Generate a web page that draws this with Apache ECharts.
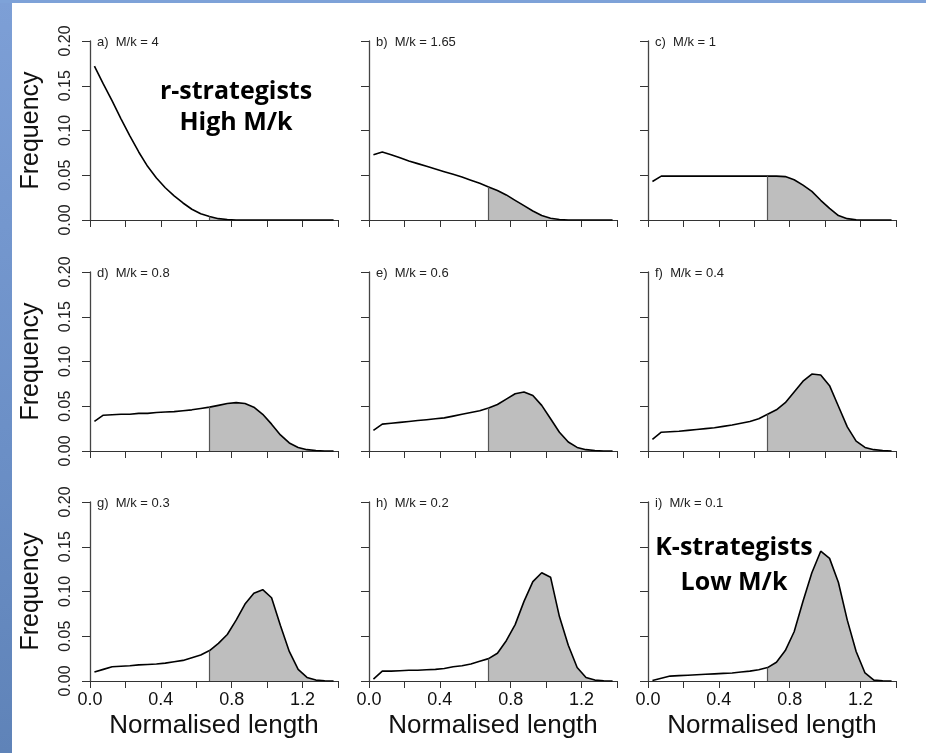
<!DOCTYPE html>
<html>
<head>
<meta charset="utf-8">
<title>Length frequency by M/k</title>
<script src="https://cdn.jsdelivr.net/npm/echarts@6/dist/echarts.min.js"></script>
<style>
    html, body { margin: 0; padding: 0; background: #fff; }
    #main { width: 926px; height: 753px; }
</style>
</head>
<body>
<div id="main"></div>
<script>
    // bin midpoints (normalised length)
    var lengths = [0.025, 0.075, 0.125, 0.175, 0.225, 0.275, 0.325, 0.375, 0.425, 0.475,
        0.525, 0.575, 0.625, 0.675, 0.725, 0.775, 0.825, 0.875, 0.925, 0.975,
        1.025, 1.075, 1.125, 1.175, 1.225, 1.275, 1.325, 1.375];

    var panelTitles = ['a)  M/k = 4', 'b)  M/k = 1.65', 'c)  M/k = 1',
        'd)  M/k = 0.8', 'e)  M/k = 0.6', 'f)  M/k = 0.4',
        'g)  M/k = 0.3', 'h)  M/k = 0.2', 'i)  M/k = 0.1'];

    var freqA = [0.172, 0.152, 0.133, 0.113, 0.094, 0.076, 0.060, 0.047, 0.036, 0.027, 0.019, 0.012, 0.007, 0.004,
        0.0015, 0.0005, 0, 0, 0, 0, 0, 0, 0, 0, 0, 0, 0, 0];
    var freqB = [0.073, 0.076, 0.073, 0.0695, 0.066, 0.063, 0.060, 0.057, 0.054, 0.051, 0.048, 0.0445, 0.041, 0.037,
        0.033, 0.028, 0.022, 0.016, 0.010, 0.005, 0.002, 0.0005, 0, 0, 0, 0, 0, 0];
    var freqC = [0.043, 0.049, 0.049, 0.049, 0.049, 0.049, 0.049, 0.049, 0.049, 0.049, 0.049, 0.049, 0.049, 0.049,
        0.049, 0.0485, 0.045, 0.039, 0.032, 0.022, 0.013, 0.005, 0.0015, 0.0003, 0, 0, 0, 0];
    var freqD = [0.033, 0.040, 0.0405, 0.041, 0.041, 0.042, 0.042, 0.043, 0.0435, 0.044, 0.045, 0.046, 0.0475, 0.049,
        0.051, 0.053, 0.054, 0.053, 0.049, 0.041, 0.030, 0.018, 0.009, 0.004, 0.0015, 0.0005, 0, 0];
    var freqE = [0.023, 0.030, 0.031, 0.032, 0.033, 0.034, 0.035, 0.036, 0.037, 0.039, 0.041, 0.043, 0.045, 0.048,
        0.052, 0.058, 0.064, 0.066, 0.062, 0.051, 0.036, 0.021, 0.010, 0.004, 0.0015, 0.0005, 0, 0];
    var freqF = [0.013, 0.021, 0.0215, 0.022, 0.023, 0.024, 0.025, 0.026, 0.0275, 0.029, 0.031, 0.033, 0.036, 0.041,
        0.046, 0.054, 0.066, 0.078, 0.086, 0.085, 0.073, 0.050, 0.027, 0.011, 0.004, 0.0015, 0.0005, 0];
    var freqG = [0.010, 0.013, 0.016, 0.0165, 0.017, 0.018, 0.0185, 0.019, 0.020, 0.0215, 0.023, 0.026, 0.029, 0.034,
        0.042, 0.052, 0.068, 0.086, 0.098, 0.102, 0.093, 0.062, 0.033, 0.013, 0.004, 0.001, 0.0003, 0];
    var freqH = [0.002, 0.011, 0.011, 0.0115, 0.012, 0.012, 0.0125, 0.013, 0.014, 0.016, 0.017, 0.019, 0.022, 0.025,
        0.031, 0.045, 0.063, 0.089, 0.111, 0.121, 0.116, 0.072, 0.040, 0.015, 0.004, 0.001, 0.0003, 0];
    var freqI = [0.0005, 0.003, 0.0055, 0.006, 0.0065, 0.007, 0.0075, 0.008, 0.0085, 0.009, 0.010, 0.011, 0.0125, 0.015,
        0.021, 0.034, 0.055, 0.089, 0.121, 0.145, 0.137, 0.110, 0.068, 0.033, 0.009, 0.001, 0.0003, 0];

    var panels = [freqA, freqB, freqC, freqD, freqE, freqF, freqG, freqH, freqI];
    var matIndex = 13; // first bin at/above maturity length (0.675), shaded from here

    var colLeft = [90, 369, 648];
    var rowTop = [41, 272, 502];
    var plotW = 248, plotH = 179;

    var rFont = "'Liberation Sans', Arial, Helvetica, sans-serif";

    var grids = [], xAxes = [], yAxes = [], series = [], titles = [];

    for (var k = 0; k < 9; k++) {
        var col = k % 3, row = Math.floor(k / 3);
        var vals = panels[k];
        var pts = [], shaded = [];
        for (var i = 0; i < lengths.length; i++) {
            pts.push([lengths[i], vals[i]]);
            if (i >= matIndex) shaded.push([lengths[i], vals[i]]);
        }

        grids.push({ left: colLeft[col], top: rowTop[row], width: plotW, height: plotH });

        xAxes.push({
            type: 'value', gridIndex: k, min: 0, max: 1.4, interval: 0.2,
            splitLine: { show: false },
            axisLine: { onZero: false, lineStyle: { color: '#333', width: 1 } },
            axisTick: { length: 7, lineStyle: { color: '#333' } },
            axisLabel: {
                show: row === 2, margin: 10, fontSize: 18, color: '#111', fontFamily: rFont,
                formatter: function(v) {
                    return (Math.round(v * 10) % 4 === 0) ? v.toFixed(1) : '';
                }
            },
            name: row === 2 ? 'Normalised length' : '',
            nameLocation: 'middle', nameGap: 32,
            nameTextStyle: { fontSize: 26, color: '#111', fontFamily: rFont }
        });

        yAxes.push({
            type: 'value', gridIndex: k, min: 0, max: 0.2, interval: 0.05,
            splitLine: { show: false },
            axisLine: { show: true, lineStyle: { color: '#444', width: 1.3 } },
            axisTick: { show: true, length: 8, lineStyle: { color: '#333' } },
            axisLabel: {
                show: col === 0, rotate: 90, margin: 16, fontSize: 16, color: '#222',
                fontFamily: "'Liberation Sans Narrow', 'Liberation Sans', Arial, sans-serif",
                formatter: function(v) { return v.toFixed(2); }
            },
            name: col === 0 ? 'Frequency' : '',
            nameLocation: 'middle', nameGap: 46,
            nameTextStyle: { fontSize: 25, color: '#111', fontFamily: rFont }
        });

        // grey area = mature part of the population
        series.push({
            type: 'line', xAxisIndex: k, yAxisIndex: k, data: shaded,
            symbol: 'none', z: 2,
            lineStyle: { width: 0, opacity: 0 },
            areaStyle: { color: '#bebebe', opacity: 1 },
            markLine: {
                silent: true, symbol: 'none', label: { show: false },
                lineStyle: { color: '#555', width: 1.2, type: 'solid' },
                data: [[{ coord: [lengths[matIndex], 0] }, { coord: [lengths[matIndex], vals[matIndex]] }]]
            }
        });
        series.push({
            type: 'line', xAxisIndex: k, yAxisIndex: k, data: pts,
            symbol: 'none', z: 3,
            lineStyle: { color: '#000', width: 1.6 }
        });

        titles.push({
            text: panelTitles[k], left: colLeft[col] + 7, top: rowTop[row] - 5, padding: 0,
            textStyle: { fontSize: 13, fontWeight: 'normal', color: '#222', fontFamily: rFont }
        });
    }

    var myChart = echarts.init(document.getElementById('main'));
    myChart.setOption({
        animation: false,
        backgroundColor: '#fff',
        title: titles,
        grid: grids,
        xAxis: xAxes,
        yAxis: yAxes,
        series: series,
        graphic: [{
            // slide background showing at the edges
            type: 'rect', z: -10, silent: true,
            shape: { x: 0, y: 0, width: 12, height: 753 },
            style: {
                fill: new echarts.graphic.LinearGradient(0, 0, 0, 1, [
                    { offset: 0, color: '#7d9fd6' },
                    { offset: 0.6, color: '#6b8fc6' },
                    { offset: 1, color: '#5f83b8' }
                ])
            }
        }, {
            type: 'rect', z: -10, silent: true,
            shape: { x: 0, y: 0, width: 926, height: 3 },
            style: { fill: '#7ea2d8' }
        }, {
            type: 'text', z: 10, x: 236, y: 76,
            style: {
                text: 'r-strategists\nHigh M/k', align: 'center', verticalAlign: 'top',
                fontSize: 25, fontWeight: 'bold', lineHeight: 31,
                fontFamily: "'Open Sans', 'Noto Sans', sans-serif", fill: '#000'
            }
        }, {
            type: 'text', z: 10, x: 734, y: 530,
            style: {
                text: 'K-strategists\nLow M/k', align: 'center', verticalAlign: 'top',
                fontSize: 25, fontWeight: 'bold', lineHeight: 35,
                fontFamily: "'Open Sans', 'Noto Sans', sans-serif", fill: '#000'
            }
        }]
    });
</script>
</body>
</html>
